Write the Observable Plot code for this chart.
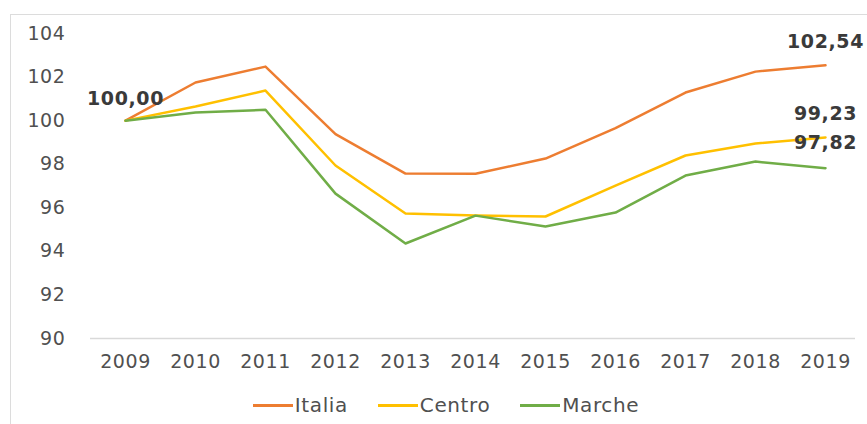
<!DOCTYPE html>
<html><head><meta charset="utf-8">
<script src="https://cdn.jsdelivr.net/npm/d3@7"></script>
<script src="https://cdn.jsdelivr.net/npm/@observablehq/plot@0.6"></script>
<style>
body{margin:0;background:#fff;font-family:"DejaVu Sans",sans-serif;}
#wrap{position:relative;width:867px;height:424px;overflow:hidden;}
#frame{position:absolute;left:10px;top:14px;width:870px;height:420px;border:1px solid #dcdcdc;box-sizing:border-box;}
#chart{position:absolute;left:0;top:0;}
#chart svg text{letter-spacing:0.6px;}
#legend{position:absolute;top:393px;left:0;width:892px;display:flex;justify-content:center;gap:30px;font-size:20px;color:#505050;letter-spacing:0.6px;}
.item{display:flex;align-items:center;}
.sw{display:inline-block;width:40px;height:3px;margin-right:2px;}
</style></head>
<body><div id="wrap"><div id="frame"></div><div id="chart"></div><div id="legend"></div></div>
<script>
const years = [2009,2010,2011,2012,2013,2014,2015,2016,2017,2018,2019];
const italia = [100.00,101.75,102.48,99.38,97.57,97.56,98.26,99.66,101.29,102.25,102.54];
const centro = [100.00,100.65,101.38,97.94,95.74,95.65,95.60,97.02,98.40,98.95,99.23];
const marche = [100.00,100.37,100.50,96.65,94.36,95.64,95.14,95.78,97.48,98.12,97.82];
const seriesNames = ["Italia","Centro","Marche"];
const colors = ["#ED7D31","#FFC000","#70AD47"];
const yTicks = [90,92,94,96,98,100,102,104];

const all = [italia,centro,marche];
const data = [];
all.forEach((vals,i)=>vals.forEach((v,j)=>data.push({year:years[j],value:v,series:seriesNames[i]})));

const fmt = v => v.toFixed(2).replace(".",",");
const labels = [
  {year:years[0], value:italia[0], dy:-22},
  {year:years[years.length-1], value:italia[italia.length-1], dy:-23},
  {year:years[years.length-1], value:centro[centro.length-1], dy:-24},
  {year:years[years.length-1], value:marche[marche.length-1], dy:-25}
];

const chart = Plot.plot({
  width:867, height:380,
  marginLeft:125, marginRight:42, marginTop:33, marginBottom:42,
  style:{fontFamily:"DejaVu Sans, sans-serif", background:"transparent"},
  x:{type:"point", domain:years, padding:0, label:null},
  y:{domain:[90,104], label:null},
  color:{domain:seriesNames, range:colors},
  marks:[
    Plot.ruleY([90],{stroke:"#d9d9d9", strokeWidth:1.5, insetLeft:-35, insetRight:-30}),
    Plot.axisY({ticks:yTicks, tickSize:0, tickPadding:60, fontSize:19, fill:"#505050", label:null, tickFormat:d=>String(d)}),
    Plot.axisX({tickSize:0, tickPadding:16, fontSize:19, fill:"#505050", label:null, tickFormat:d=>String(d)}),
    Plot.line(data,{x:"year", y:"value", z:"series", stroke:"series", strokeWidth:2.5}),
    ...labels.map(l=>Plot.text([l],{x:"year", y:"value", dy:l.dy, text:d=>fmt(d.value), fontSize:19, fontWeight:"bold", fill:"#3a3a3a"}))
  ]
});
document.getElementById("chart").appendChild(chart);

const lg = document.getElementById("legend");
seriesNames.forEach((n,i)=>{
  const it=document.createElement("div");it.className="item";
  const sw=document.createElement("span");sw.className="sw";sw.style.background=colors[i];
  it.appendChild(sw);it.appendChild(document.createTextNode(n));lg.appendChild(it);
});
</script></body></html>
